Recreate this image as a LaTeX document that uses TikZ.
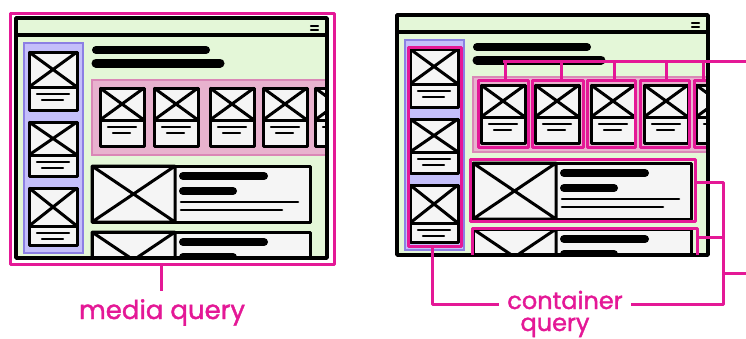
\documentclass[tikz,border=0pt]{standalone}
\usepackage{fontspec}
\setmainfont{Poppins}
\newfontfamily\markerfont{Poppins}[FakeBold=1.5]
\definecolor{mintgreen}{RGB}{228,247,216}
\definecolor{lilac}{RGB}{196,191,250}
\definecolor{lilacedge}{RGB}{140,128,228}
\definecolor{rosepink}{RGB}{232,178,206}
\definecolor{roseedge}{RGB}{218,135,182}
\definecolor{paper}{RGB}{245,245,245}
\definecolor{hotpink}{RGB}{228,24,150}
\usetikzlibrary{positioning}

% card with picture and two text lines: x, y, width, height, picture height
\newcommand{\wirecard}[5]{%
  \filldraw[card,fill=paper] (#1,#2) rectangle ++(#3,#4);
  \draw[card] (#1,#2) rectangle ++(#3,#5);
  \draw[card] (#1,#2) -- ++(#3,#5) (#1,#2+#5) -- ++(#3,-#5);
  \draw[txt] (#1+8,#2+#5+7) -- (#1+#3-8,#2+#5+7);
  \draw[txt] (#1+13,#2+#5+13) -- (#1+#3-14,#2+#5+13);
}
% wide article card: x, y, width, height, picture width
\newcommand{\widecard}[5]{%
  \filldraw[card,fill=paper] (#1,#2) rectangle ++(#3,#4);
  \draw[card] (#1,#2) rectangle ++(#5,#4) (#1,#2) -- ++(#5,#4) (#1,#2+#4) -- ++(#5,-#4);
  \draw[bar] (#1+#5+8,#2+10) -- ++(81,0);
  \draw[bar] (#1+#5+8,#2+25) -- ++(50,0);
  \draw[rule] (#1+#5+6,#2+36) -- ++(117,0);
  \draw[rule] (#1+#5+6,#2+44) -- ++(101,0);
}
% one browser window
\newcommand{\wireframe}{%
  \fill[mintgreen] (16,18) rectangle (327,258);
  \begin{scope}
    \clip (16,36) rectangle (327,258);
    % sidebar
    \filldraw[fill=lilac,draw=lilacedge,line width=2pt] (24,43) rectangle (83,253);
    \wirecard{29}{52}{48}{58}{35}
    \wirecard{29}{122}{48}{54}{33}
    \wirecard{29}{188}{48}{57}{38}
    % headline
    \draw[bar] (96,50) -- (206,50);
    \draw[bar,line width=9pt] (96,63) -- (220,63);
    % carousel
    \filldraw[fill=rosepink,draw=roseedge,line width=2pt] (92,80) rectangle (335,155);
    \foreach \cx in {100,154,210,263,315}{
      \wirecard{\cx}{88}{44}{58}{32}
    }
    % articles
    \widecard{92}{166}{218}{56}{83}
    \widecard{92}{232}{218}{56}{83}
  \end{scope}
  \draw[frame] (16,18) rectangle (327,258);
  \draw[frame] (16,35) -- (327,35);
  \draw[line width=2.2pt,line cap=round] (311,26) -- (318,26) (311,30) -- (318,30);
}

\begin{document}
\begin{tikzpicture}[x=1pt,y=-1pt,
    card/.style={draw=black,line width=3pt,line join=round},
    frame/.style={line width=3.4pt,line join=round},
    bar/.style={line width=8pt,line cap=round},
    rule/.style={line width=2.6pt,line cap=round},
    txt/.style={line width=2.4pt,line cap=round},
    query/.style={draw=hotpink,line width=3pt,line join=round},
    qlabel/.style={text=hotpink,inner sep=8pt,anchor=base}]
  \useasboundingbox (0,0) rectangle (746,338);

  % media query: the whole window
  \draw[query] (10,13) rectangle (334,264);
  \wireframe
  \coordinate (pagebot) at (161,264);
  \node[qlabel,font=\fontsize{26}{26}\selectfont\markerfont] (mq) at (162,319) {media query};
  \draw[query] (pagebot) -- (mq.north -| pagebot);

  % container query: the boxes inside
  \begin{scope}[shift={(381,-3)}]
    \wireframe
  \end{scope}
  \draw[query] (408,47) rectangle (461,246);
  \foreach \ox/\ow in {478/50,532/51,587/48,640/49}
    \draw[query] (\ox,80) rectangle ++(\ow,67);
  \draw[query] (706,80) -- (694,80) -- (694,147) -- (706,147);
  \draw[query] (470,159) rectangle (695,221);
  \draw[query] (472,255) -- (472,228) -- (697,228) -- (697,255);

  % connectors
  \coordinate (sidebot) at (432,246);
  \coordinate (art1) at (695,182);
  \coordinate (art2) at (697,237);
  \coordinate (rail) at (723,304);
  \coordinate (cardrow) at (746,61);
  \coordinate (offpage) at (746,273);
  \node[qlabel,font=\fontsize{24}{24}\selectfont\markerfont] (cont) at (565,309) {container};
  \node[qlabel,font=\fontsize{24}{24}\selectfont\markerfont] (qry) at (555,331) {query};
  \draw[query] (sidebot) |- (rail -| cont.west);
  \draw[query] (art1) -| (rail) -- (rail -| cont.east);
  \draw[query] (art2) -- (art2 -| rail);
  \draw[query] (offpage -| rail) -- (offpage);
  \draw[query] (503,61) -- (cardrow);
  \foreach \dx in {505,561,614,666,703}
    \draw[query] (\dx,61) -- (\dx,81);
\end{tikzpicture}
\end{document}
